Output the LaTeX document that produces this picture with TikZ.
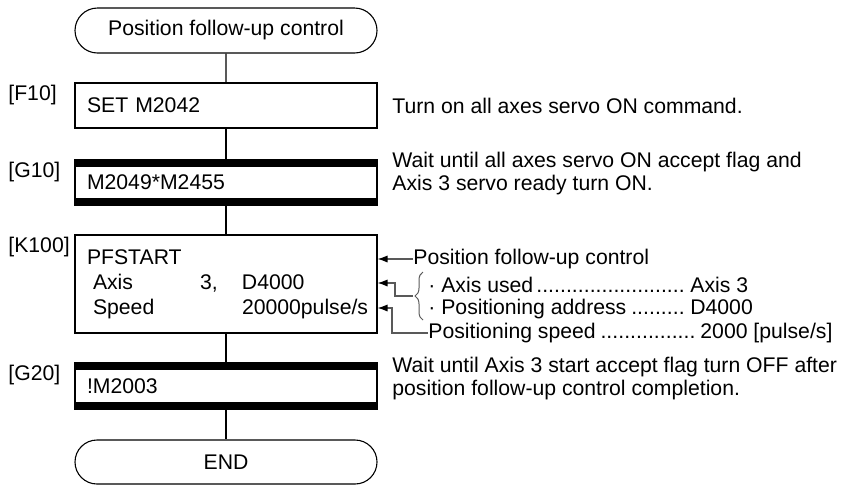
\documentclass[tikz,border=0pt]{standalone}
\usepackage{fontspec}
\setmainfont{Liberation Sans}
\usetikzlibrary{arrows.meta,positioning,decorations.pathreplacing,shapes.misc}
\newcommand{\leaderdots}{\leaders\hbox to 0.28em{\hss.\hss}\hfill}

\begin{document}
\begin{tikzpicture}[x=0.5pt,y=-0.5pt,>=Latex,font=\fontsize{10.6}{12.5}\selectfont,
     term/.style={draw,line width=0.55pt,rounded rectangle,minimum width=151pt,minimum height=22.5pt,inner sep=0pt},
     prog/.style={draw,line width=0.55pt,text width=139pt,inner xsep=6pt,inner ysep=0pt,align=left,minimum height=22.5pt},
     waitbox/.style={prog,path picture={
       \fill (path picture bounding box.north west) rectangle ([yshift=-3.4pt]path picture bounding box.north east);
       \fill (path picture bounding box.south west) rectangle ([yshift=3.4pt]path picture bounding box.south east);}},
     step label/.style={anchor=west,inner sep=0pt},
     note/.style={anchor=west,inner sep=0pt,align=left},
     flow/.style={line width=0.55pt},
     annot/.style={draw=black!65,line width=0.6pt,-{Latex[black,length=5pt,width=3.6pt]}}]
  \useasboundingbox (0,0) rectangle (850,484);
  % flow chart
  \node[term] (start) at (226,30.5) {Position follow-up control};
  \node[prog] (f10) at (226,105.5) {SET M2042};
  \node[waitbox] (g10) at (226,182.5) {M2049*M2455};
  \node[prog,minimum height=49pt] (k100) at (226,284)
    {PFSTART\\
     \hspace*{3pt}\makebox[53.5pt][l]{Axis}\makebox[21pt][l]{3,}D4000\\
     \hspace*{3pt}\makebox[74.5pt][l]{Speed}20000pulse/s};
  \node[waitbox,minimum height=23pt] (g20) at (226,386) {!M2003};
  \node[term,minimum height=22pt] (finish) at (226,462) {END};
  \draw[flow] (start) -- (f10);
  \draw[flow] (f10) -- (g10);
  \draw[flow] (g10) -- (k100);
  \draw[flow] (k100) -- (g20);
  \draw[flow] (g20) -- (finish);
  % step numbers
  \node[step label] (lf10) at (8,95) {[F10]};
  \node[step label] (lg10) at (8,172) {[G10]};
  \node[step label] (lk100) at (8,247) {[K100]};
  \node[step label] (lg20) at (8,375) {[G20]};
  % comments
  \node[note] (cf10) at (392,106) {Turn on all axes servo ON command.};
  \node[note,font=\fontsize{10.6}{11.5}\selectfont] (cg10) at (392,173.5)
    {Wait until all axes servo ON accept flag and\\Axis 3 servo ready turn ON.};
  \node[note,font=\fontsize{10.6}{11.5}\selectfont] (cg20) at (392,379)
    {Wait until Axis 3 start accept flag turn OFF after\\position follow-up control completion.};
  % PFSTART settings
  \node[note] (posctl) at (413,259) {Position follow-up control};
  \node[note] (axisused) at (428,285)
    {\textperiodcentered\ \makebox[124.5pt][l]{Axis used\leaderdots}Axis 3};
  \node[note] (address) at (428,309)
    {\textperiodcentered\ \makebox[124.5pt][l]{Positioning address\leaderdots}D4000};
  \node[note] (speed) at (428,333)
    {\makebox[136pt][l]{Positioning speed\leaderdots}2000 [pulse/s]};
  \draw[black!65,line width=0.5pt,decorate,decoration={brace,amplitude=4pt}]
    (423,320) -- (423,272);
  \coordinate (tipA) at (413,296);
  \coordinate (elbA) at (395,283);
  \coordinate (elbB) at (392,308);
  \draw[annot] (posctl.west) -- (k100.east |- posctl.west);
  \draw[annot] (tipA) -| (elbA) -- (k100.east |- elbA);
  \draw[annot] (speed.west) -| (elbB) -- (k100.east |- elbB);
\end{tikzpicture}
\end{document}
